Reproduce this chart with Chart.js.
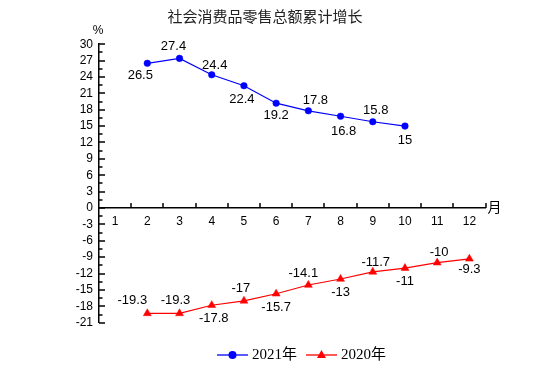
<!DOCTYPE html>
<html>
<head>
<meta charset="utf-8">
<title>社会消费品零售总额累计增长</title>
<script src="https://cdn.jsdelivr.net/npm/chart.js@4.4.1/dist/chart.umd.min.js"></script>
<style>
  html, body { margin: 0; padding: 0; background: #fff; }
</style>
</head>
<body>
<canvas id="chart" width="554" height="387"></canvas>
<script>
// data
const months = ['1', '2', '3', '4', '5', '6', '7', '8', '9', '10', '11', '12'];
const growth2021 = [null, 26.5, 27.4, 24.4, 22.4, 19.2, 17.8, 16.8, 15.8, 15, null, null];
const growth2020 = [null, -19.3, -19.3, -17.8, -17, -15.7, -14.1, -13, -11.7, -11, -10, -9.3];
const yMin = -21;
const yMax = 30;
const yStep = 3;

// label placement (dx, dy from the point) - styling only
const labelOffsets = [
  [null, [-7, 12], [-6, -12], [3, -9], [-2, 14], [0, 12], [7, -10], [3, 15], [3, -11], [0, 14], null, null],
  [null, [-15, -13], [-4, -13], [2, 13], [-3, -12], [0, 14], [-5, -12], [0, 13], [3, -9], [0, 13], [2, -10], [0, 11]]
];

const SANS = '"Liberation Sans", Arial, sans-serif';
const CJK = '"Noto Sans CJK SC", sans-serif';
const SERIF = '"Liberation Serif", "Noto Sans CJK SC", serif';

// tick marks pointing into the plot, value labels, title, unit text and legend
const decorPlugin = {
  id: 'decor',
  afterDraw(chart) {
    const ctx = chart.ctx;
    const xs = chart.scales.x;
    const ys = chart.scales.y;
    const left = chart.chartArea.left;
    const y0 = ys.getPixelForValue(0);
    ctx.save();
    ctx.fillStyle = '#000';
    // y ticks: major every 3, minor in between
    for (let k = 0; k <= (yMax - yMin) / yStep * 2; k++) {
      const v = yMin + k * yStep / 2;
      const py = Math.round(ys.getPixelForValue(v));
      const len = (k % 2 === 0) ? 6 : 3.5;
      ctx.fillRect(left, py - 0.75, len, 1.5);
    }
    // x ticks on category borders
    const half = (xs.getPixelForValue(1) - xs.getPixelForValue(0)) / 2;
    for (let i = 0; i < months.length; i++) {
      const px = Math.round(xs.getPixelForValue(i) + half);
      ctx.fillRect(px - 0.75, y0 - 5, 1.5, 5);
    }

    // value labels
    ctx.font = '13px ' + SANS;
    ctx.textAlign = 'center';
    ctx.textBaseline = 'middle';
    chart.data.datasets.forEach((ds, di) => {
      const meta = chart.getDatasetMeta(di);
      meta.data.forEach((pt, i) => {
        const val = ds.data[i];
        if (val === null) return;
        const off = labelOffsets[di][i] || [0, -12];
        ctx.fillText(String(val), pt.x + off[0], pt.y + off[1]);
      });
    });

    // title
    ctx.fillStyle = '#222';
    ctx.font = '15px ' + CJK;
    ctx.fillText('社会消费品零售总额累计增长', 265, 16);
    // unit labels
    ctx.fillStyle = '#000';
    ctx.font = '12px ' + SANS;
    ctx.fillText('%', left - 1, 31);
    ctx.textAlign = 'left';
    ctx.font = '14px ' + CJK;
    ctx.fillText('月', xs.right + 2, y0 - 1);

    // legend
    const ly = 355;
    const items = [
      { x: 217, color: '#0000ff', shape: 'circle', text: '2021年' },
      { x: 306, color: '#ff0000', shape: 'triangle', text: '2020年' }
    ];
    items.forEach(it => {
      ctx.strokeStyle = it.color;
      ctx.fillStyle = it.color;
      ctx.lineWidth = 1.3;
      ctx.beginPath();
      ctx.moveTo(it.x, ly);
      ctx.lineTo(it.x + 31, ly);
      ctx.stroke();
      const cx = it.x + 15.5;
      ctx.beginPath();
      if (it.shape === 'circle') {
        ctx.arc(cx, ly, 4, 0, Math.PI * 2);
      } else {
        ctx.moveTo(cx, ly - 5);
        ctx.lineTo(cx + 4.5, ly + 3);
        ctx.lineTo(cx - 4.5, ly + 3);
        ctx.closePath();
      }
      ctx.fill();
      ctx.fillStyle = '#000';
      ctx.font = '15px ' + SERIF;
      ctx.textAlign = 'left';
      ctx.fillText(it.text, it.x + 35, ly);
    });
    ctx.restore();
  }
};

new Chart(document.getElementById('chart'), {
  type: 'line',
  data: {
    labels: months,
    datasets: [
      {
        label: '2021年',
        data: growth2021,
        borderColor: '#0000ff',
        backgroundColor: '#0000ff',
        borderWidth: 1.2,
        pointStyle: 'circle',
        pointRadius: 3.3,
        pointBorderWidth: 0.5,
        tension: 0
      },
      {
        label: '2020年',
        data: growth2020,
        borderColor: '#ff0000',
        backgroundColor: '#ff0000',
        borderWidth: 1.2,
        pointStyle: 'triangle',
        pointRadius: 4.6,
        pointBorderWidth: 0.5,
        tension: 0
      }
    ]
  },
  options: {
    responsive: false,
    animation: false,
    devicePixelRatio: 1,
    events: [],
    layout: { padding: { left: 59, right: 68.5, top: 44.2, bottom: 64.3 } },
    plugins: {
      legend: { display: false },
      tooltip: { enabled: false },
      title: { display: false }
    },
    scales: {
      x: {
        type: 'category',
        position: { y: 0 },
        offset: true,
        grid: { display: false, drawTicks: false, offset: true },
        border: { display: true, color: '#000', width: 1.5 },
        ticks: { color: '#000', font: { size: 12, family: SANS }, padding: 6, autoSkip: false, maxRotation: 0 }
      },
      y: {
        min: yMin,
        max: yMax,
        afterFit(scale) { scale.width = 40; },
        grid: { display: false, drawTicks: false },
        border: { display: true, color: '#000', width: 1.5 },
        ticks: { stepSize: yStep, autoSkip: false, color: '#000', font: { size: 12, family: SANS }, padding: 6 }
      }
    }
  },
  plugins: [decorPlugin]
});
</script>
</body>
</html>
